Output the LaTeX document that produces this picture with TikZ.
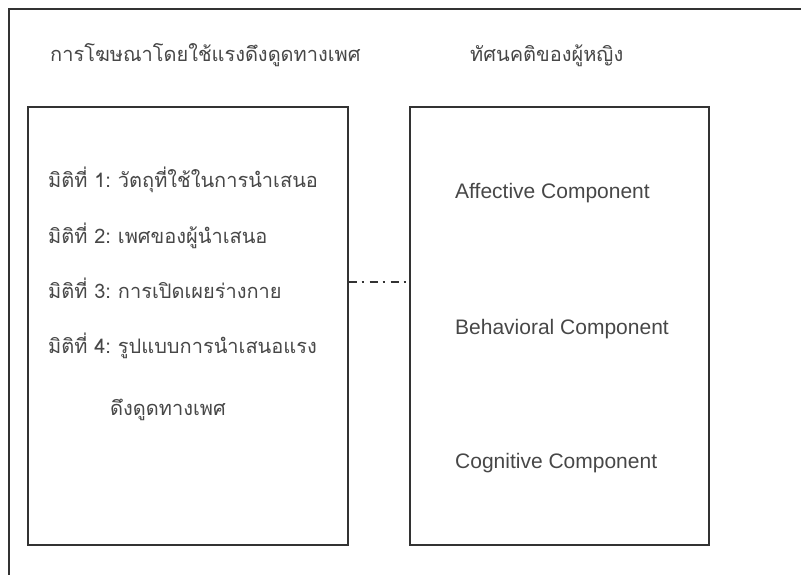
\documentclass[tikz,border=0pt]{standalone}
\usepackage{fontspec}
\setmainfont{Liberation Sans}
\newfontfamily\thaifont[Script=Thai]{Loma}
\usetikzlibrary{positioning}

\begin{document}
\begin{tikzpicture}[x=1pt, y=-1pt,
    frame/.style={draw=black!80, line width=1.3pt},
    panel/.style={frame, rectangle, inner sep=0pt, minimum height=438pt},
    thaitext/.style={anchor=base west, inner sep=0pt, text=black!72,
        font=\thaifont\fontsize{20}{24}\selectfont},
    engtext/.style={anchor=base west, inner sep=0pt, text=black!72,
        font=\fontsize{21}{25}\selectfont},
    linkline/.style={draw=black!80, line width=1.2pt,
        dash pattern=on 8pt off 5pt on 2pt off 6pt}]
    % Fix the page size
    \useasboundingbox (0,0) rectangle (801,575);

    % Outer frame (cut at the right and the bottom)
    \draw[frame] (9,575) -- (9,9) -- (801,9);

    % Draw the two boxes
    \node[panel, minimum width=320pt] (adbox) at (188,326) {};
    \node[panel, minimum width=299pt] (attbox) at (559.5,326) {};

    % Titles
    \node[thaitext] (adtitle) at (50,62) {การโฆษณาโดยใช้แรงดึงดูดทางเพศ};
    \node[thaitext] (atttitle) at (470,62) {ทัศนคติของผู้หญิง};

    % Left box
    \node[thaitext] (dim1) at (48,188) {มิติที่ 1:\hspace{-2pt} วัตถุที่ใช้ในการนำเสนอ};
    \node[thaitext] (dim2) at (48,243) {มิติที่ 2:\hspace{-2pt} เพศของผู้นำเสนอ};
    \node[thaitext] (dim3) at (48,298) {มิติที่ 3:\hspace{-2pt} การเปิดเผยร่างกาย};
    \node[thaitext] (dim4) at (48,353) {มิติที่ 4:\hspace{-2pt} รูปแบบการนำเสนอแรง};
    \node[thaitext] (dim4b) at (110,415) {ดึงดูดทางเพศ};

    % Right box
    \node[engtext] (affect) at (455,198) {Affective Component};
    \node[engtext] (behave) at (455,334) {Behavioral Component};
    \node[engtext] (cognit) at (455,468) {Cognitive Component};

    % Link between the boxes
    \coordinate (link) at (380,282);
    \draw[linkline] (adbox.east |- link) -- (attbox.west |- link);
\end{tikzpicture}
\end{document}
